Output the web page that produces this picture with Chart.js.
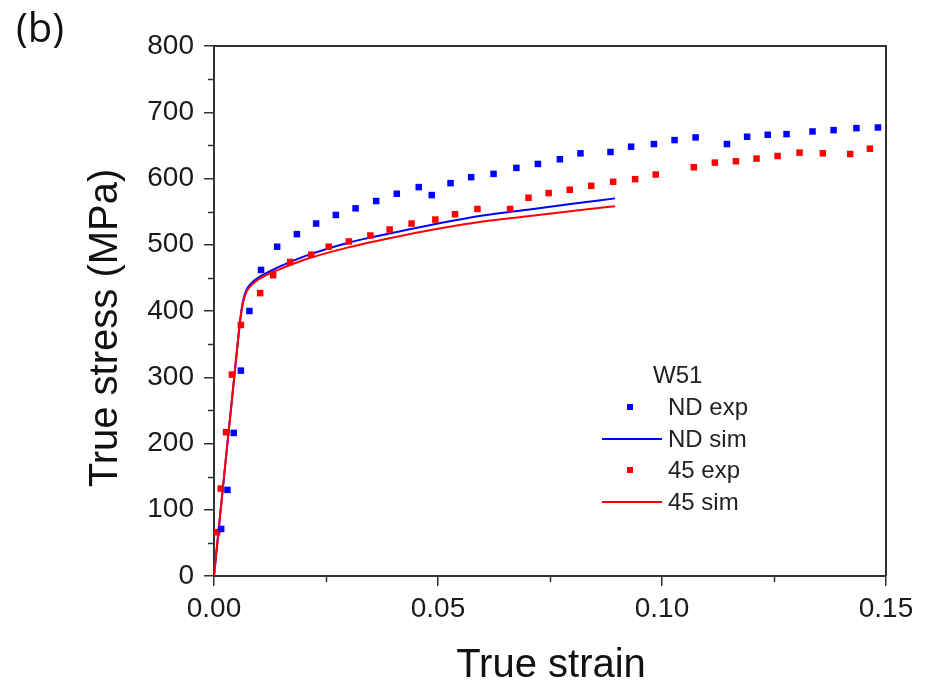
<!DOCTYPE html>
<html>
<head>
<meta charset="utf-8">
<title>W51 true stress-strain</title>
<script src="https://cdn.jsdelivr.net/npm/chart.js@4.4.1/dist/chart.umd.min.js"></script>
<style>
  html, body { margin: 0; padding: 0; background: #fff; }
  #chart { display: block; }
</style>
</head>
<body>
<canvas id="chart" width="932" height="686"></canvas>
<script>
const ndExpStrain = [0.0016, 0.0030, 0.0044, 0.0060, 0.0079, 0.0105, 0.0141, 0.0185, 0.0228, 0.0272,
    0.0316, 0.0362, 0.0408, 0.0457, 0.0486, 0.0528, 0.0574, 0.0624, 0.0675, 0.0723,
    0.0772, 0.0818, 0.0885, 0.0931, 0.0982, 0.1028, 0.1075, 0.1145, 0.1190, 0.1236,
    0.1278, 0.1336, 0.1383, 0.1434, 0.1482];
const ndExpStress = [71, 130, 216, 310, 400, 462, 497, 516, 532, 545,
    555, 566, 577, 587, 575, 593, 602, 607, 616, 622,
    629, 638, 640, 648, 652, 658, 662, 652, 663, 666,
    667, 671, 673, 676, 677];

const ndSimStrain = [0, 0.0055, 0.0060, 0.0065, 0.0072, 0.0082, 0.0100, 0.0125, 0.0150, 0.0200,
    0.0300, 0.0400, 0.0500, 0.0600, 0.0700, 0.0800, 0.0895];
const ndSimStress = [0, 365, 395, 416, 431, 441, 451, 460, 468, 482,
    503, 518, 532, 544, 553, 562, 570];

const d45ExpStrain = [0.0007, 0.0015, 0.0027, 0.0040, 0.0060, 0.0103, 0.0132, 0.0170, 0.0217, 0.0256,
    0.0301, 0.0349, 0.0392, 0.0441, 0.0494, 0.0538, 0.0588, 0.0661, 0.0702, 0.0747,
    0.0794, 0.0842, 0.0891, 0.0940, 0.0986, 0.1071, 0.1118, 0.1165, 0.1211, 0.1258,
    0.1307, 0.1359, 0.1420, 0.1464];
const d45ExpStress = [66, 132, 217, 304, 379, 427, 454, 474, 485, 497,
    505, 514, 523, 532, 538, 546, 554, 554, 571, 578,
    583, 589, 595, 599, 606, 617, 624, 626, 630, 634,
    639, 638, 637, 645];

const d45SimStrain = [0, 0.0055, 0.0060, 0.0065, 0.0072, 0.0082, 0.0100, 0.0125, 0.0150, 0.0200,
    0.0300, 0.0400, 0.0500, 0.0600, 0.0700, 0.0800, 0.0895];
const d45SimStress = [0, 365, 393, 413, 428, 438, 448, 457, 464, 477,
    496, 511, 524, 535, 543, 551, 558];

const xTicks = [0, 0.05, 0.10, 0.15];
const yTicks = [0, 100, 200, 300, 400, 500, 600, 700, 800];
const xMinor = [0.025, 0.075, 0.125];
const yMinor = [50, 150, 250, 350, 450, 550, 650, 750];

const legendTitle = 'W51';
const legendLabels = ['ND exp', 'ND sim', '45 exp', '45 sim'];

const BLUE = '#0000ff';
const RED = '#ff0000';
const AXIS = '#333333';
const FONT = '"Liberation Sans", Arial, sans-serif';

const toPts = (xs, ys) => xs.map((x, i) => ({ x, y: ys[i] }));

// marcos, ticks menores, títulos y leyenda
const extras = {
    id: 'extras',
    afterDraw(chart) {
        const { ctx, chartArea: { left, right, top, bottom }, scales: { x, y } } = chart;
        ctx.save();
        ctx.strokeStyle = AXIS;
        ctx.lineWidth = 2;
        ctx.beginPath();
        ctx.moveTo(left, top);
        ctx.lineTo(right, top);
        ctx.lineTo(right, bottom);
        ctx.stroke();

        ctx.lineWidth = 1.5;
        ctx.beginPath();
        xMinor.forEach(v => {
            const px = Math.round(x.getPixelForValue(v)) + 0.5;
            ctx.moveTo(px, bottom);
            ctx.lineTo(px, bottom + 6);
        });
        yMinor.forEach(v => {
            const py = Math.round(y.getPixelForValue(v)) + 0.5;
            ctx.moveTo(left, py);
            ctx.lineTo(left - 6, py);
        });
        ctx.stroke();

        ctx.fillStyle = '#111';
        ctx.font = '40px ' + FONT;
        ctx.textAlign = 'center';
        ctx.textBaseline = 'alphabetic';
        ctx.fillText('True strain', 551, 677);

        ctx.save();
        ctx.translate(117, 328);
        ctx.rotate(-Math.PI / 2);
        ctx.fillText('True stress (MPa)', 0, 0);
        ctx.restore();

        ctx.textAlign = 'left';
        ctx.font = '40px "Open Sans", "Noto Sans", sans-serif';
        ctx.fillText('(b)', 16, 42);

        // leyenda
        ctx.font = '24px ' + FONT;
        ctx.fillStyle = '#222';
        ctx.fillText(legendTitle, 653, 383);
        const rows = [415, 447, 478, 510];
        const kinds = ['pt', 'ln', 'pt', 'ln'];
        const cols = [BLUE, BLUE, RED, RED];
        legendLabels.forEach((lab, i) => {
            const cy = rows[i] - 8;
            if (kinds[i] === 'pt') {
                ctx.fillStyle = cols[i];
                ctx.fillRect(627, cy - 3, 6, 6);
            } else {
                ctx.strokeStyle = cols[i];
                ctx.lineWidth = 2;
                ctx.beginPath();
                ctx.moveTo(602, cy);
                ctx.lineTo(662, cy);
                ctx.stroke();
            }
            ctx.fillStyle = '#222';
            ctx.fillText(lab, 668, rows[i]);
        });
        ctx.restore();
    }
};

new Chart(document.getElementById('chart').getContext('2d'), {
    type: 'scatter',
    data: {
        datasets: [
            { label: legendLabels[0], data: toPts(ndExpStrain, ndExpStress), showLine: false,
              pointStyle: 'rect', pointRadius: 4.6, backgroundColor: BLUE, borderWidth: 0, order: 0 },
            { label: legendLabels[1], data: toPts(ndSimStrain, ndSimStress), showLine: true,
              borderColor: BLUE, borderWidth: 2, pointRadius: 0, cubicInterpolationMode: 'monotone', order: 3 },
            { label: legendLabels[2], data: toPts(d45ExpStrain, d45ExpStress), showLine: false,
              pointStyle: 'rect', pointRadius: 4.6, backgroundColor: RED, borderWidth: 0, order: 1 },
            { label: legendLabels[3], data: toPts(d45SimStrain, d45SimStress), showLine: true,
              borderColor: RED, borderWidth: 2, pointRadius: 0, cubicInterpolationMode: 'monotone', order: 2 }
        ]
    },
    options: {
        responsive: false,
        animation: false,
        devicePixelRatio: 1,
        layout: { padding: { top: 46, right: 46, left: 0, bottom: 0 } },
        plugins: { legend: { display: false }, tooltip: { enabled: false } },
        scales: {
            x: {
                type: 'linear', min: 0, max: 0.15,
                afterFit: s => { s.height = 110; },
                afterBuildTicks: s => { s.ticks = xTicks.map(v => ({ value: v })); },
                ticks: { color: '#1a1a1a', font: { family: FONT, size: 28 }, padding: 6,
                         callback: v => v.toFixed(2), maxRotation: 0, autoSkip: false },
                grid: { drawOnChartArea: false, tickLength: 10, color: AXIS, lineWidth: 1.5 },
                border: { color: AXIS, width: 2 }
            },
            y: {
                type: 'linear', min: 0, max: 800,
                afterFit: s => { s.width = 214; },
                afterBuildTicks: s => { s.ticks = yTicks.map(v => ({ value: v })); },
                ticks: { color: '#1a1a1a', font: { family: FONT, size: 28 }, padding: 10, autoSkip: false },
                grid: { drawOnChartArea: false, tickLength: 10, color: AXIS, lineWidth: 1.5 },
                border: { color: AXIS, width: 2 }
            }
        }
    },
    plugins: [extras]
});
</script>
</body>
</html>
